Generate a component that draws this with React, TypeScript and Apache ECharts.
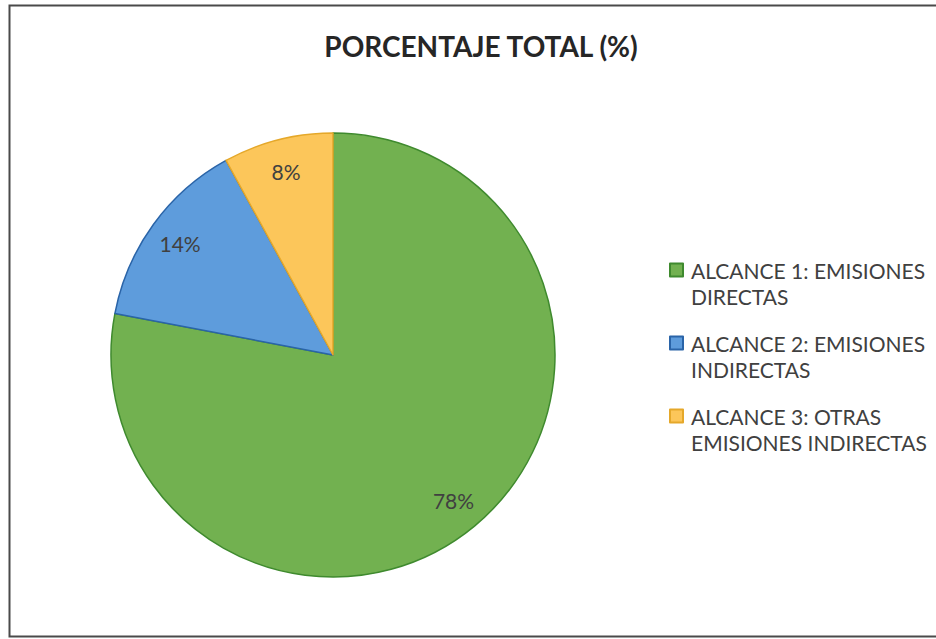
import React, { useEffect, useRef } from "react";
import * as echarts from "echarts";

const categories = [
  "ALCANCE 1: EMISIONES DIRECTAS",
  "ALCANCE 2: EMISIONES INDIRECTAS",
  "ALCANCE 3: OTRAS EMISIONES INDIRECTAS",
];
const legendLabels = [
  "ALCANCE 1: EMISIONES\nDIRECTAS",
  "ALCANCE 2: EMISIONES\nINDIRECTAS",
  "ALCANCE 3: OTRAS\nEMISIONES INDIRECTAS",
];
const values = [78, 14, 8];
const fillColors = ["#72b150", "#5e9cdc", "#fcc65a"];
const borderColors = ["#3f8a2e", "#2a64a8", "#e5a82a"];
const titleText = "PORCENTAJE TOTAL (%)";

const FONT = "Lato, 'Open Sans', sans-serif";

export default function App() {
  const ref = useRef<HTMLDivElement>(null);
  useEffect(() => {
    if (!ref.current) return;
    const chart = echarts.init(ref.current, undefined, { renderer: "svg" });
    const pieData = categories.map((name, i) => ({
      name,
      value: values[i],
      itemStyle: { color: fillColors[i], borderColor: borderColors[i], borderWidth: 1.5 },
    }));
    const labelData = categories.map((name, i) => ({ name, value: values[i] }));
    const labelMap: Record<string, string> = {};
    categories.forEach((c, i) => (labelMap[c] = " \n" + legendLabels[i]));
    chart.setOption({
      animation: false,
      backgroundColor: "#ffffff",
      title: {
        text: titleText,
        left: 481,
        top: 32,
        textAlign: "center",
        padding: 0,
        textStyle: { fontFamily: FONT, fontSize: 28, fontWeight: "bold", color: "#262626" },
      },
      legend: {
        orient: "vertical",
        left: 669,
        top: 231,
        padding: 0,
        itemGap: -5,
        itemWidth: 13,
        itemHeight: 13,
        icon: "rect",
        selectedMode: false,
        data: categories,
        formatter: (n: string) => labelMap[n] || n,
        textStyle: {
          fontFamily: FONT,
          fontSize: 21,
          lineHeight: 26,
          color: "#404040",
          padding: [0, 0, 0, 3],
        },
      },
      graphic: [
        {
          type: "rect",
          shape: { x: 9.5, y: 5.5, width: 960, height: 631 },
          style: { fill: "none", stroke: "#4a4a4a", lineWidth: 2 },
          silent: true,
          z: 100,
        },
      ],
      series: [
        {
          type: "pie",
          center: [333, 355],
          radius: 222,
          startAngle: 90,
          clockwise: true,
          label: { show: false },
          labelLine: { show: false },
          emphasis: { disabled: true },
          data: pieData,
        },
        {
          type: "pie",
          center: [333, 355],
          radius: [150, 222],
          startAngle: 90,
          clockwise: true,
          silent: true,
          legendHoverLink: false,
          avoidLabelOverlap: false,
          itemStyle: { color: "rgba(0,0,0,0)", borderWidth: 0 },
          emphasis: { disabled: true },
          label: {
            show: true,
            position: "inside",
            formatter: "{c}%",
            fontFamily: FONT,
            fontSize: 21,
            color: "#404040",
          },
          labelLine: { show: false },
          data: labelData,
        },
      ],
    });
    return () => chart.dispose();
  }, []);
  return (
    <div
      ref={ref}
      style={{ position: "absolute", left: 0, top: 0, width: 936, height: 639, background: "#fff" }}
    />
  );
}
